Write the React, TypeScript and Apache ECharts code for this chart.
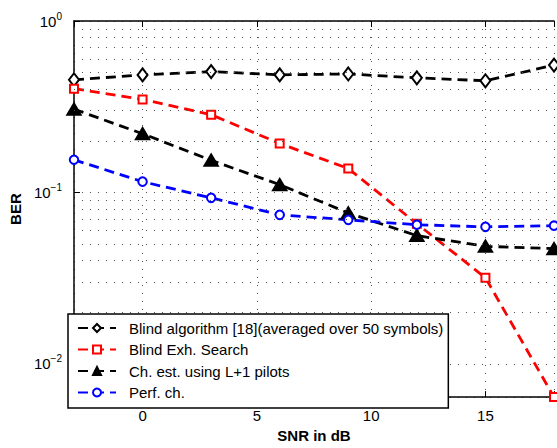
import React, { useEffect, useRef } from 'react';
import * as echarts from 'echarts';

const FONT = '"Liberation Sans", Arial, Helvetica, sans-serif';

const snr = [-3, 0, 3, 6, 9, 12, 15, 18];
const blindAlg = [0.454, 0.485, 0.507, 0.485, 0.491, 0.466, 0.448, 0.553];
const blindExh = [0.403, 0.349, 0.284, 0.193, 0.138, 0.0657, 0.0318, 0.0064];
const chEst = [0.306, 0.22, 0.154, 0.111, 0.0759, 0.056, 0.0485, 0.047];
const perfCh = [0.155, 0.1156, 0.093, 0.074, 0.0692, 0.0648, 0.063, 0.064];

const seriesNames = [
  'Blind algorithm [18](averaged over 50 symbols)',
  'Blind Exh. Search',
  'Ch. est. using L+1 pilots',
  'Perf. ch.',
];
const xTickLabels = [0, 5, 10, 15];
const yMinorGrid = [
  0.007, 0.008, 0.009,
  0.02, 0.03, 0.04, 0.05, 0.06, 0.07, 0.08, 0.09,
  0.2, 0.3, 0.4, 0.5, 0.6, 0.7, 0.8, 0.9,
];

const GRID_DOT = { color: '#555', width: 1, type: [1, 7] as number[] };

export default function App() {
  const ref = useRef<HTMLDivElement>(null);
  useEffect(() => {
    const chart = echarts.init(ref.current!, null, { renderer: 'svg' });
    const mk = (name: string, vals: number[], color: string, symbol: string, size: any) => ({
      name,
      type: 'line',
      data: snr.map((x, i) => [x, vals[i]]),
      clip: false,
      symbol,
      symbolSize: size,
      showAllSymbol: true,
      lineStyle: { color, width: 2.8, type: [10, 6] },
      itemStyle: { color, borderColor: color, borderWidth: 2.2 },
      z: 3,
    });
    chart.setOption({
      animation: false,
      backgroundColor: '#fff',
      textStyle: { fontFamily: FONT },
      grid: { left: 68, top: 21, width: 489, height: 384, containLabel: false },
      legend: {
        data: seriesNames,
        orient: 'vertical',
        left: 68,
        top: 314,
        backgroundColor: '#fff',
        borderColor: '#000',
        borderWidth: 1.5,
        borderRadius: 0,
        padding: [6.5, 5, 8, 9],
        itemWidth: 38,
        itemHeight: 10,
        itemGap: 6.5,
        textStyle: { fontSize: 15, color: '#000', fontFamily: FONT, padding: [0, 0, 0, 8] },
        z: 10,
      },
      xAxis: [
        {
          type: 'value',
          min: -3,
          max: 18,
          position: 'bottom',
          name: 'SNR in dB',
          nameLocation: 'middle',
          nameGap: 28,
          nameTextStyle: { fontWeight: 'bold', fontSize: 15, color: '#000', fontFamily: FONT },
          axisLine: { show: true, onZero: false, lineStyle: { color: '#000', width: 1.5 } },
          axisTick: { show: true, inside: true, length: 6, lineStyle: { color: '#000', width: 1 } },
          axisLabel: {
            color: '#000',
            fontSize: 15,
            fontFamily: FONT,
            margin: 11,
            showMinLabel: true,
            showMaxLabel: true,
            formatter: (v: number) => (xTickLabels.indexOf(v) >= 0 ? String(v) : ''),
          },
          splitLine: { show: true, lineStyle: GRID_DOT },
        },
        {
          type: 'value',
          min: -3,
          max: 18,
          position: 'top',
          axisLine: { show: true, onZero: false, lineStyle: { color: '#000', width: 1.5 } },
          axisTick: { show: true, inside: true, length: 6, lineStyle: { color: '#000', width: 1 } },
          axisLabel: { show: false },
          splitLine: { show: false },
        },
      ],
      yAxis: {
        type: 'log',
        logBase: 10,
        min: 0.0064,
        max: 1,
        name: 'BER',
        nameLocation: 'middle',
        nameGap: 42,
        nameTextStyle: { fontWeight: 'bold', fontSize: 15, color: '#000', fontFamily: FONT },
        axisLine: { show: true, onZero: false, lineStyle: { color: '#000', width: 1.5 } },
        axisTick: { show: true, inside: true, length: 6, lineStyle: { color: '#000', width: 1 } },
        axisLabel: {
          margin: 12,
          formatter: (v: number) => {
            const l = Math.log10(v);
            const r = Math.round(l);
            if (Math.abs(l - r) > 1e-6) return '';
            const e = r < 0 ? '\u2212' + Math.abs(r) : String(r);
            return '{b|10}{s|' + e + '}';
          },
          rich: {
            b: { fontSize: 15, color: '#000', fontFamily: FONT },
            s: { fontSize: 10, color: '#000', fontFamily: FONT, verticalAlign: 'bottom', padding: [0, 0, 10, 0] },
          },
        },
        splitLine: { show: true, lineStyle: GRID_DOT },
      },
      series: [
        {
          name: 'grid',
          type: 'line',
          data: [],
          z: 1,
          silent: true,
          markLine: {
            silent: true,
            symbol: ['none', 'none'],
            label: { show: false },
            lineStyle: GRID_DOT,
            data: yMinorGrid.map((v) => ({ yAxis: v })),
          },
        },
        mk(seriesNames[0], blindAlg, '#000000', 'emptyDiamond', [10, 13]),
        mk(seriesNames[1], blindExh, '#ff0000', 'emptyRect', 8),
        mk(seriesNames[2], chEst, '#000000', 'triangle', [13, 11]),
        mk(seriesNames[3], perfCh, '#0000ff', 'emptyCircle', 8.5),
      ],
    });
    return () => chart.dispose();
  }, []);
  return (
    <div
      ref={ref}
      style={{ position: 'fixed', left: 0, top: 0, width: 557, height: 448, background: '#fff' }}
    />
  );
}
